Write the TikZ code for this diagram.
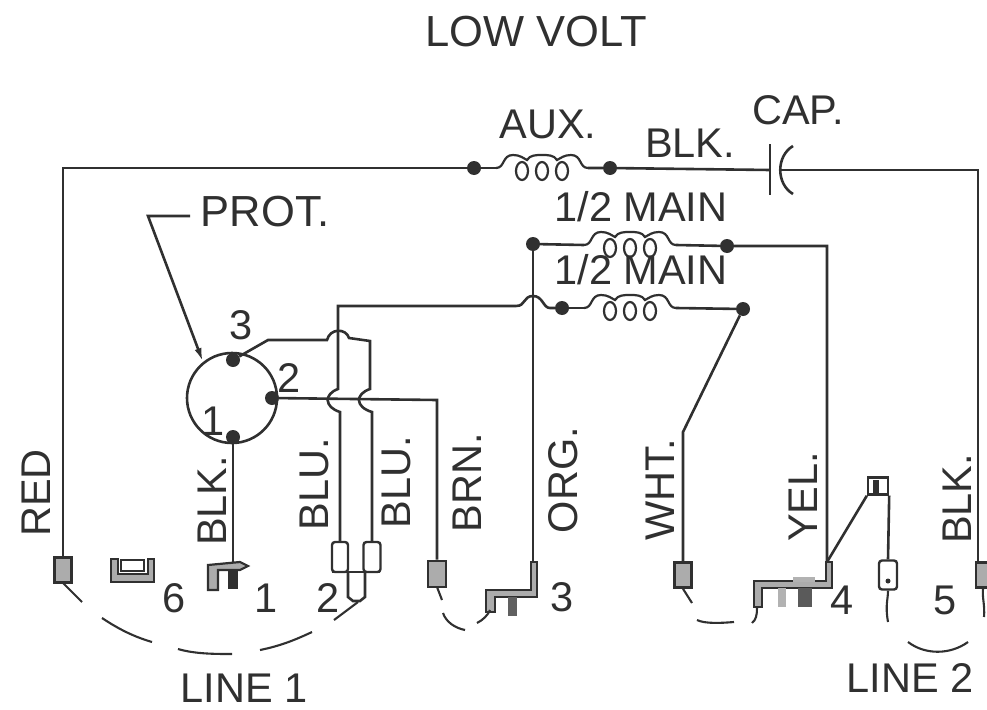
\documentclass[tikz,border=0pt]{standalone}
\usepackage{fontspec}
\usetikzlibrary{arrows.meta}
\setmainfont{Liberation Sans}
\definecolor{ink}{HTML}{303030}
\newcommand{\coilshape}[2]{%
  \draw[coilwire] (#1-46,#2) .. controls (#1-37,#2) and (#1-40,#2-13) .. (#1-29,#2-13)
    .. controls (#1-22,#2-13) and (#1-19,#2-10) .. (#1-15,#2-8)
    .. controls (#1-12,#2-13) and (#1-6,#2-13) .. (#1,#2-13)
    .. controls (#1+6,#2-13) and (#1+12,#2-13) .. (#1+15,#2-8)
    .. controls (#1+19,#2-10) and (#1+22,#2-13) .. (#1+29,#2-13)
    .. controls (#1+40,#2-13) and (#1+37,#2) .. (#1+46,#2);
  \foreach \lx in {-20,0,20} \draw[coilwire] (#1+\lx,#2+3) ellipse [x radius=6,y radius=9];
}
\tikzset{
  wire/.style={draw=ink,line width=2.6pt},
  coilwire/.style={draw=ink,line width=2.2pt},
  thin wire/.style={draw=ink,line width=2.1pt},
  junction/.style={circle,fill=ink,inner sep=0pt,minimum size=14pt},
  lab/.style={text=ink,font=\fontsize{41.5}{42}\selectfont,inner sep=0pt},
  biglab/.style={text=ink,font=\fontsize{43.5}{44}\selectfont,inner sep=0pt},
  vlab/.style={lab,rotate=90},
  term/.style={draw=ink,line width=2.6pt,fill=gray!65,inner sep=0pt,minimum width=17pt,minimum height=25pt},
  pale/.style={draw=ink,line width=2.4pt,fill=white,inner sep=0pt,rounded corners=3pt},
}
\begin{document}
\begin{tikzpicture}[x=1pt,y=-1pt]
\useasboundingbox (0,0) rectangle (987,709);
% labels
\node[biglab] (tLow) at (536,32) {LOW VOLT};
\node[lab] (tAux) at (548,124) {AUX.};
\node[lab] (tBlk) at (690,143) {BLK.};
\node[lab] (tCap) at (798,110) {CAP.};
\node[lab] (tMainA) at (641,207) {1/2 MAIN};
\node[lab] (tMainB) at (641,270) {1/2 MAIN};
\node[biglab] (tProt) at (265,212) {PROT.};
\node[vlab] (tRed) at (36,493) {RED};
\node[vlab] (tBlkA) at (212,501) {BLK.};
\node[vlab] (tBluA) at (314,484) {BLU.};
\node[vlab] (tBluB) at (396,482) {BLU.};
\node[vlab] (tBrn) at (467,483) {BRN.};
\node[vlab] (tOrg) at (563,480) {ORG.};
\node[vlab] (tWht) at (660,490) {WHT.};
\node[vlab] (tYel) at (803,497) {YEL.};
\node[vlab] (tBlkB) at (957,499) {BLK.};
\node[lab] (nSix) at (174,598) {6};
\node[lab] (nOne) at (266,598) {1};
\node[lab] (nTwo) at (328,598) {2};
\node[lab] (nThree) at (562,597) {3};
\node[lab] (nFour) at (842,600) {4};
\node[lab] (nFive) at (945,600) {5};
\node[lab] (pThree) at (241,325) {3};
\node[lab] (pTwo) at (289,378) {2};
\node[lab] (pOne) at (213,421) {1};
\node[lab] (tLineA) at (244,688) {LINE 1};
\node[lab] (tLineB) at (910,678) {LINE 2};
% protector
\node[circle,draw=ink,line width=2.6pt,minimum size=90pt,inner sep=0pt] (prot) at (232,398) {};
\node[junction] (pin3) at (233,360) {};
\node[junction] (pin2) at (272,398) {};
\node[junction] (pin1) at (233,437) {};
\coordinate (protTail) at (190,216);
\coordinate (protKnee) at (148,216);
\coordinate (protTip) at (203,362);
\draw[wire,-{Latex[length=14pt,width=7pt]}] (protTail) -- (protKnee) -- (protTip);
% junctions
\node[junction] (auxL) at (474,168) {};
\node[junction] (auxR) at (610,168) {};
\node[junction] (mainAL) at (533,244) {};
\node[junction] (mainAR) at (727,246) {};
\node[junction] (mainBL) at (562,308) {};
\node[junction] (mainBR) at (743,309) {};
% coils
\coilshape{542}{168}
\coilshape{630}{245}
\coilshape{630}{308}
% terminals
\node[term] (tmRed) at (63,570) {};
\node[term,minimum width=18pt,minimum height=26pt] (tmBrn) at (437,574) {};
\node[term] (tmWht) at (683,575) {};
\node[term,minimum width=12pt] (tmBlk) at (982,575) {};
\node[pale,minimum width=18pt,minimum height=29pt] (tmNeut) at (888,575) {};
\node[circle,fill=ink,inner sep=0pt,minimum size=5pt] (tmDot) at (888,581) {};
\node[pale,minimum width=20pt,minimum height=17pt,rounded corners=0pt] (tmTop) at (878,486) {};
\fill[ink] (873,480) rectangle (879,493);
\node[pale,minimum width=16pt,minimum height=30pt] (tmBluA) at (340,557) {};
\node[pale,minimum width=17pt,minimum height=30pt] (tmBluB) at (372,557) {};
% capacitor
\coordinate (capA) at (770,170);
\coordinate (capB) at (781,170);
\draw[wire] (770,144) -- (capA) -- (770,195);
\draw[wire] (793,146) .. controls (776,156) and (776,184) .. (793,194);
% wires
\draw[wire] (tmRed.north) -- (63,168) -- (auxL) -- (496,168);
\draw[wire] (588,168) -- (auxR) -- (capA);
\draw[wire] (capB) -- (978,170) -- (978,562);
\draw[wire] (mainAL) -- (584,245);
\draw[wire] (676,245) -- (mainAR) -- (827,246) -- (827,562);
\draw[wire] (mainBL) -- (584,308);
\draw[wire] (676,308) -- (mainBR);
\draw[wire] (mainBR) -- (683,432) -- (tmWht.north);
\draw[wire] (mainAL) -- (533,562);
\draw[wire] (mainBL) -- (550,308) .. controls (543,308) and (543,296) .. (533,296)
  .. controls (523,296) and (526,306) .. (516,306) -- (338,306) -- (338,389)
  .. controls (324,394) and (324,407) .. (340,412) -- (tmBluA.north);
\draw[wire] (pin3) -- (268,340) -- (327,340) .. controls (330,328) and (346,328) .. (349,338)
  -- (370,341) -- (370,389) .. controls (355,394) and (355,407) .. (372,412) -- (372,542);
\draw[wire] (pin2) -- (437,400) -- (tmBrn.north);
\draw[wire] (pin1) -- (233,565);
% terminal 1
\draw[draw=ink,line width=2.2pt,fill=gray!65] (208,590) -- (208,565) -- (240,562) -- (248,566) -- (240,570) -- (218,570) -- (218,590) -- cycle;
\fill[ink] (228,570) rectangle (238,589);
% terminal 6
\draw[wire,fill=gray!65] (111,559) -- (111,582) -- (154,582) -- (154,559) -- (148,559) -- (148,574) -- (118,574) -- (118,559) -- cycle;
\draw[thin wire] (121,560) rectangle (144,571);
% terminal 2 link
\draw[thin wire] (332,572) -- (380,572);
\draw[wire] (348,572) -- (348,597) -- (353,601) -- (360,601) -- (365,597) -- (365,572);
% terminal 3
\draw[coilwire,fill=gray!65] (531,562) -- (531,590) -- (486,590) -- (486,612) -- (495,612) -- (495,597) -- (537,597) -- (537,562) -- cycle;
\fill[gray!60!ink] (508,597) rectangle (517,616);
% terminal 4
\draw[coilwire,fill=gray!65] (826,562) -- (826,581) -- (754,581) -- (754,607) -- (762,607) -- (762,588) -- (832,588) -- (832,562) -- cycle;
\fill[gray!60] (778,588) rectangle (786,607);
\fill[ink!80] (798,588) rectangle (812,607);
\fill[gray!60] (793,577) rectangle (815,582);
\draw[wire] (827,562) -- (tmTop.south west);
\draw[wire] (tmTop.south east) -- (tmNeut.north);
% dashed harness pieces
\draw[thin wire] (tmNeut.south) .. controls (888,600) and (885,605) .. (888,622);
\draw[thin wire] (tmBlk.south) ++(1,0) .. controls (982,597) and (985,605) .. (984,617);
\draw[thin wire] (63,583) -- (82,602);
\draw[thin wire] (102,618) .. controls (120,630) and (135,637) .. (152,642);
\draw[thin wire] (178,649) .. controls (195,654) and (215,654) .. (232,654);
\draw[thin wire] (260,650) .. controls (280,646) and (295,640) .. (312,632);
\draw[thin wire] (334,620) -- (358,602);
\draw[thin wire] (437,587) -- (442,600);
\draw[thin wire] (443,613) .. controls (446,622) and (455,628) .. (465,630);
\draw[thin wire] (477,623) .. controls (483,620) and (488,615) .. (490,610);
\draw[thin wire] (tmWht.south) -- (692,603);
\draw[thin wire] (697,620) .. controls (705,624) and (722,623) .. (734,622);
\draw[thin wire] (752,623) .. controls (756,620) and (757,615) .. (757,608);
\draw[thin wire] (908,642) .. controls (925,655) and (950,655) .. (968,642);
\end{tikzpicture}
\end{document}
